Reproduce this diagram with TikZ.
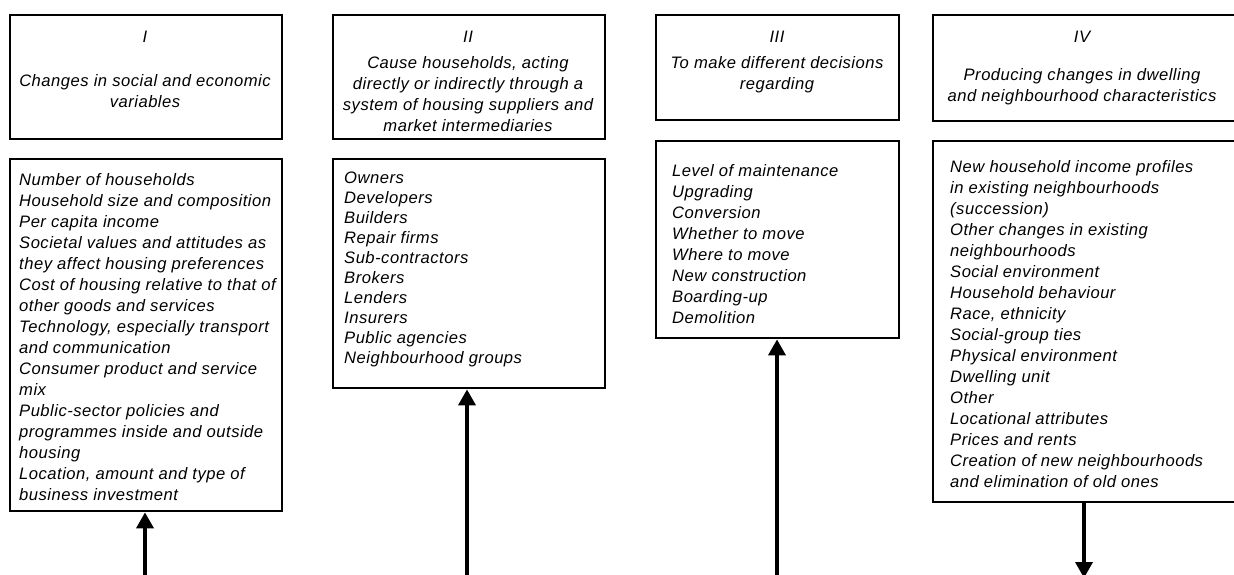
\documentclass[tikz,border=0pt]{standalone}
\usepackage{fontspec}
\setmainfont{Liberation Sans}[LetterSpace=3]
\usetikzlibrary{arrows.meta}
\begin{document}
\begin{tikzpicture}[x=1pt,y=-1pt,
  box/.style={draw=black, line width=2.4pt, anchor=north west, inner sep=0pt},
  txt/.style={font=\fontsize{16.6}{21}\selectfont\itshape, inner sep=0pt, text=black},
  lst/.style={txt, align=left, anchor=north west},
  ttl/.style={txt, align=center, anchor=north},
  arr/.style={line width=3.6pt, -{Triangle[width=17pt,length=16pt]}}]
\useasboundingbox (0,0) rectangle (1234,575);
% boxes
\node[box, minimum width=272pt, minimum height=124pt] (h1) at (9,14) {};
\node[box, minimum width=272pt, minimum height=352pt] (l1) at (9,158) {};
\node[box, minimum width=272pt, minimum height=124pt] (h2) at (332,14) {};
\node[box, minimum width=272pt, minimum height=229pt] (l2) at (332,158) {};
\node[box, minimum width=243pt, minimum height=105pt] (h3) at (655,14) {};
\node[box, minimum width=243pt, minimum height=197pt] (l3) at (655,140) {};
\node[box, minimum width=302pt, minimum height=106pt] (h4) at (932,14) {};
\node[box, minimum width=302pt, minimum height=361pt] (l4) at (932,140) {};
% numerals
\node[ttl] (n1) at (145,28) {\strut I};
\node[ttl] (n2) at (468,28) {\strut II};
\node[ttl] (n3) at (777,28) {\strut III};
\node[ttl] (n4) at (1082,28) {\strut IV};
% titles
\node[ttl] (t1) at (145,72) {\strut Changes in social and economic\\variables};
\node[ttl] (t2) at (468,54) {\strut Cause households, acting\\directly or indirectly through a\\system of housing suppliers and\\market intermediaries};
\node[ttl] (t3) at (777,54) {\strut To make different decisions\\regarding};
\node[ttl] (t4) at (1082,66) {\strut Producing changes in dwelling\\and neighbourhood characteristics};
% lists
\node[lst] (c1) at (19,171) {\strut Number of households\\Household size and composition\\Per capita income\\Societal values and attitudes as\\they affect housing preferences\\Cost of housing relative to that of\\other goods and services\\Technology, especially transport\\and communication\\Consumer product and service\\mix\\Public-sector policies and\\programmes inside and outside\\housing\\Location, amount and type of\\business investment};
\node[lst, font=\fontsize{16.6}{20}\selectfont\itshape] (c2) at (344,169) {\strut Owners\\Developers\\Builders\\Repair firms\\Sub-contractors\\Brokers\\Lenders\\Insurers\\Public agencies\\Neighbourhood groups};
\node[lst] (c3) at (672,162) {\strut Level of maintenance\\Upgrading\\Conversion\\Whether to move\\Where to move\\New construction\\Boarding-up\\Demolition};
\node[lst] (c4) at (950,158) {\strut New household income profiles\\in existing neighbourhoods\\(succession)\\Other changes in existing\\neighbourhoods\\Social environment\\Household behaviour\\Race, ethnicity\\Social-group ties\\Physical environment\\Dwelling unit\\Other\\Locational attributes\\Prices and rents\\Creation of new neighbourhoods\\and elimination of old ones};
% arrows
\coordinate (s1) at (145,576);
\coordinate (s2) at (467,576);
\coordinate (s3) at (777,576);
\coordinate (e4) at (1084,578);
\draw[arr] (s1) -- (s1 |- l1.south);
\draw[arr] (s2) -- (s2 |- l2.south);
\draw[arr] (s3) -- (s3 |- l3.south);
\draw[arr] (e4 |- l4.south) -- (e4);
\end{tikzpicture}
\end{document}
